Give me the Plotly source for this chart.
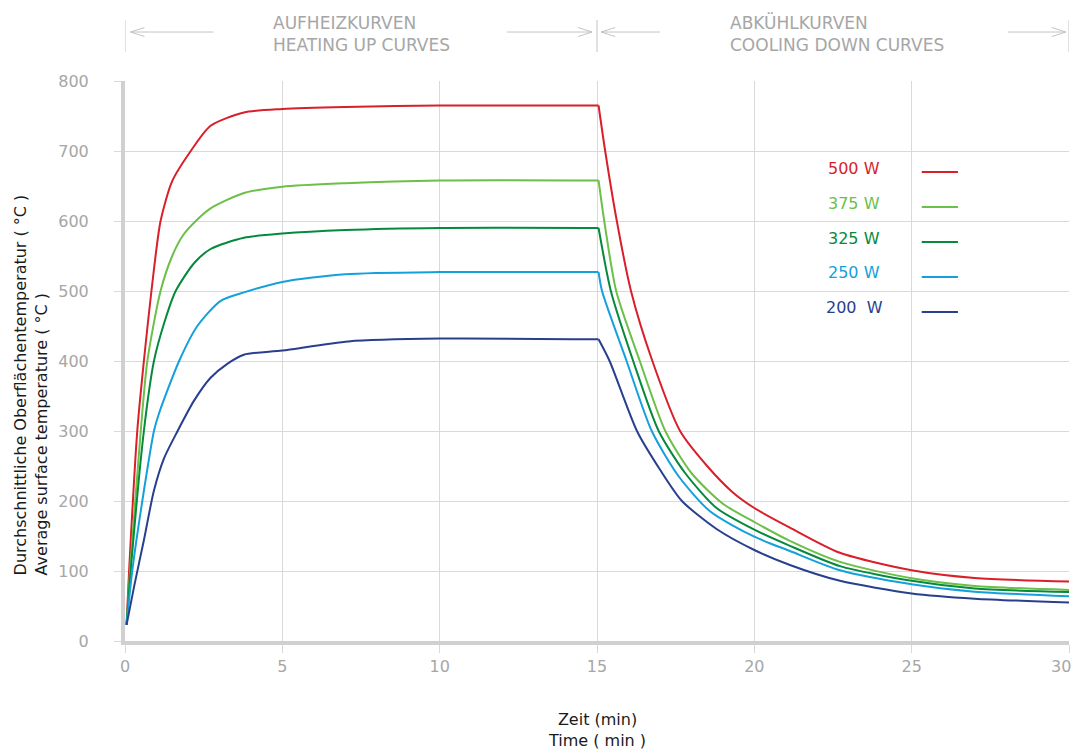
import plotly.graph_objects as go

# ---------------- data ----------------
# time (min) / average surface temperature (°C); the heating phase ends at t = 15.05
T_OFF = 15.05

t_500 = [0.05, 0.13, 0.39, 0.6, 0.84, 1.13, 1.5, 2.09, 2.72, 3.78, 5, 7, 10, 15.05,
         15.26, 15.63, 16.08, 16.76, 17.64, 18.5, 19.3, 20, 21.13, 22.72, 25, 27, 30]
v_500 = [23, 100, 300, 400, 500, 600, 657, 700, 736, 755, 760, 763, 765, 765,
         700, 600, 500, 400, 300, 250, 213, 190, 162, 126, 101, 90, 85]

t_375 = [0.05, 0.16, 0.5, 0.71, 1.13, 1.5, 1.85, 2.25, 2.72, 3.78, 5, 7, 10, 15.05,
         15.23, 15.61, 16.36, 17.17, 18, 19, 20, 21.13, 22.72, 25, 27, 30]
v_375 = [23, 100, 300, 400, 500, 550, 580, 600, 618, 640, 649, 654, 658, 658,
         600, 500, 400, 300, 240, 196, 170, 143, 113, 89.5, 78.6, 73]

t_325 = [0.05, 0.18, 0.6, 0.92, 1.25, 1.61, 2.2, 2.72, 3.78, 5, 7, 10, 15.05,
         15.44, 16.15, 16.96, 17.8, 18.8, 20, 21.13, 22.72, 25, 27, 30]
v_325 = [23, 100, 300, 400, 455, 500, 540, 560, 576, 582, 587, 590, 590,
         500, 400, 300, 240, 190, 159, 136, 107, 86, 75, 70]

t_250 = [0.05, 0.23, 0.55, 0.92, 1.08, 1.72, 2.3, 3.04, 3.78, 5, 7, 10, 15.05,
         15.16, 15.94, 16.74, 17.6, 18.6, 20, 21.13, 22.72, 25, 27, 30]
v_250 = [23, 100, 200, 300, 325, 400, 450, 486, 498, 513, 524, 527, 527,
         500, 400, 300, 235, 185, 149, 128.6, 101, 81, 70.5, 64]

t_200 = [0.05, 0.29, 0.6, 0.92, 1.24, 1.66, 2.19, 2.72, 3.25, 3.78, 5, 7.1, 10, 15.05,
         15.4, 16.27, 17.0, 17.7, 18.8, 20, 21.13, 22.72, 25, 27, 30]
v_200 = [23, 78, 144, 215, 261, 299, 343, 376, 396, 409, 415, 428, 432, 431,
         400, 300, 245, 200, 160, 130, 108.6, 86, 68, 60.5, 55]

series_labels = ["500 W", "375 W", "325 W", "250 W", "200  W"]
series_colors = ["#d81f2a", "#6cbf47", "#058a3c", "#14a0dc", "#283f8e"]
series_t = [t_500, t_375, t_325, t_250, t_200]
series_v = [v_500, v_375, v_325, v_250, v_200]

x_ticks = [0, 5, 10, 15, 20, 25, 30]
y_ticks = [0, 100, 200, 300, 400, 500, 600, 700, 800]

FONT = "DejaVu Sans"
GRID = "#d9d9d9"
LABEL_GREY = "#a6a6a6"
DECO_GREY = "#c3c3c3"

fig = go.Figure()
for lab, col, tt, vv in zip(series_labels, series_colors, series_t, series_v):
    k = tt.index(T_OFF)
    # heating phase and cooling phase share the switch-off point (sharp corner)
    for xs, ys in ((tt[:k + 1], vv[:k + 1]), (tt[k:], vv[k:])):
        fig.add_trace(go.Scatter(x=xs, y=ys, mode="lines", name=lab,
                                 line=dict(color=col, width=2, shape="spline", smoothing=0.7),
                                 showlegend=False, hoverinfo="skip"))

W, H = 1075, 755
ml, mr, mt, mb = 124.5, 5.7, 81, 113.7
pw = W - ml - mr
ph = H - mt - mb


def py(ypix):
    return (H - mb - ypix) / ph


def px(xpix):
    return (xpix - ml) / pw


def xt(xpix):
    return px(xpix) * 30


# last x tick label is placed by an annotation so that it stays inside the page
x_ticktext = [str(v) for v in x_ticks[:-1]] + [""]

fig.update_layout(
    width=W, height=H, template="none",
    margin=dict(l=ml, r=mr, t=mt, b=mb, pad=0),
    paper_bgcolor="white", plot_bgcolor="white",
    font=dict(family=FONT, size=16, color="#222222"),
    xaxis=dict(range=[0, 30], tickvals=x_ticks, ticktext=x_ticktext,
               showgrid=True, gridcolor=GRID, gridwidth=1.3,
               showline=True, linecolor="#d0d0d0", linewidth=4,
               ticks="outside", ticklen=8, tickcolor=GRID, tickwidth=1.3,
               zeroline=False, automargin=False, ticklabeloverflow="allow",
               tickfont=dict(family=FONT, size=16, color=LABEL_GREY)),
    yaxis=dict(range=[0, 800], tickvals=y_ticks, ticktext=[str(v) for v in y_ticks],
               showgrid=True, gridcolor=GRID, gridwidth=1.3,
               showline=True, linecolor="#d0d0d0", linewidth=4,
               ticks="outside", ticklen=7, tickcolor=GRID, tickwidth=1.3,
               zeroline=False, automargin=False, ticklabelstandoff=22,
               ticklabeloverflow="allow",
               tickfont=dict(family=FONT, size=16, color=LABEL_GREY)),
)

shapes = []
annotations = []

annotations.append(dict(x=px(W - 1.5), y=py(667), xref="paper", yref="paper",
                        text=str(x_ticks[-1]), showarrow=False,
                        xanchor="right", yanchor="middle",
                        font=dict(family=FONT, size=16, color=LABEL_GREY)))

# legend (text left, line sample right)
leg_text_y = [675.7, 625.7, 575.7, 527, 477]
leg_line_y = [670, 620, 570, 520, 470]
for lab, col, ty, ly in zip(series_labels, series_colors, leg_text_y, leg_line_y):
    annotations.append(dict(x=23.17, y=ty, xref="x", yref="y", text=lab,
                            showarrow=False, xanchor="center", yanchor="middle",
                            font=dict(family=FONT, size=16, color=col)))
    shapes.append(dict(type="line", xref="x", yref="y", x0=25.32, x1=26.47,
                       y0=ly, y1=ly, line=dict(color=col, width=2)))

# header separators and arrows
for xm in [0, 15, 30]:
    shapes.append(dict(type="line", xref="x", yref="paper", x0=xm, x1=xm,
                       y0=py(52), y1=py(20), line=dict(color=DECO_GREY, width=1)))

ya = py(32)
hx = 14 / pw * 30
hy = 4.5 / ph
arrows = [(xt(130), xt(213), -1), (xt(507), xt(592), 1),
          (xt(601), xt(660), -1), (xt(1008), xt(1066), 1)]
for a, b, d in arrows:
    shapes.append(dict(type="line", xref="x", yref="paper", x0=a, x1=b, y0=ya, y1=ya,
                       line=dict(color=DECO_GREY, width=1)))
    tip = a if d < 0 else b
    back = tip - d * hx
    for s in (1, -1):
        shapes.append(dict(type="line", xref="x", yref="paper", x0=tip, x1=back,
                           y0=ya, y1=ya + s * hy, line=dict(color=DECO_GREY, width=1)))

annotations.append(dict(x=xt(271), y=py(33.5), xref="x", yref="paper",
                        text="AUFHEIZKURVEN<br>HEATING UP CURVES", showarrow=False,
                        xanchor="left", yanchor="middle", align="left",
                        font=dict(family=FONT, size=17, color=LABEL_GREY)))
annotations.append(dict(x=xt(728), y=py(33.5), xref="x", yref="paper",
                        text="ABKÜHLKURVEN<br>COOLING DOWN CURVES", showarrow=False,
                        xanchor="left", yanchor="middle", align="left",
                        font=dict(family=FONT, size=17, color=LABEL_GREY)))

# axis titles
annotations.append(dict(x=0.5, y=py(730.5), xref="paper", yref="paper",
                        text="Zeit (min)<br>Time ( min )", showarrow=False,
                        xanchor="center", yanchor="middle", align="center",
                        font=dict(family=FONT, size=16, color="#1a1a1a")))
annotations.append(dict(x=px(30), y=py(385), xref="paper", yref="paper",
                        text="Durchschnittliche Oberflächentemperatur ( °C )<br>Average surface temperature ( °C )",
                        showarrow=False, textangle=-90, xanchor="center", yanchor="middle",
                        align="left", font=dict(family=FONT, size=16, color="#1a1a1a")))

fig.update_layout(shapes=shapes, annotations=annotations)
fig.write_html(
    "out.html",
    config={"displayModeBar": False},
    post_script="document.body.style.margin='0';document.body.style.overflow='hidden';",
)
